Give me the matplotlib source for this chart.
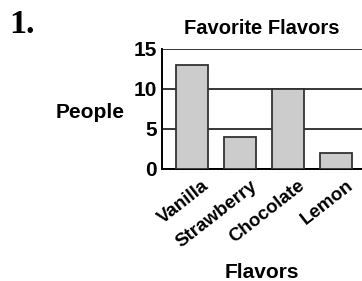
import matplotlib.pyplot as plt
from matplotlib.transforms import ScaledTranslation

flavors = ["Vanilla", "Strawberry", "Chocolate", "Lemon"]
people = [13, 4, 10, 2]
y_ticks = [0, 5, 10, 15]

plt.rcParams["font.family"] = ["Liberation Sans", "DejaVu Sans"]

W, H = 362, 281
fig = plt.figure(figsize=(W / 100, H / 100), dpi=100)
# axes box in pixels: left 162, top 49, bottom 169, runs off the right edge
ax = fig.add_axes([162 / W, 1 - 169 / H, 1 - 162 / W, 120 / H])

x = range(len(flavors))
ax.bar(x, people, width=0.667, color="#cccccc", edgecolor="#333333", linewidth=1.3, zorder=3)

ax.set_ylim(0, 15)
ax.set_xlim(-0.625, -0.625 + (W - 162) / 48)
ax.set_yticks(y_ticks)
ax.set_yticklabels([str(t) for t in y_ticks], fontsize=15, fontweight="bold")
ax.yaxis.grid(True, color="black", linewidth=1.1, zorder=0)
ax.tick_params(axis="y", length=0, pad=3.5)
ax.tick_params(axis="x", length=0, pad=6)

ax.set_xticks(list(x))
ax.set_xticklabels(flavors, rotation=38, ha="right", va="top", rotation_mode="anchor",
                   fontsize=13.5, fontweight="bold")
shift = ScaledTranslation(7 / 72, 0, fig.dpi_scale_trans)
for lbl in ax.get_xticklabels():
    lbl.set_transform(lbl.get_transform() + shift)

for side in ["top", "right"]:
    ax.spines[side].set_visible(False)
ax.spines["left"].set_linewidth(1.4)
ax.spines["bottom"].set_linewidth(1.4)

def px(xp, yp):
    return xp / W, 1 - yp / H

fig.text(*px(262, 34), "Favorite Flavors", fontsize=14.5, fontweight="bold",
         ha="center", va="baseline")
fig.text(*px(262, 278), "Flavors", fontsize=15, fontweight="bold",
         ha="center", va="baseline")
fig.text(*px(125, 118), "People", fontsize=15, fontweight="bold",
         ha="right", va="baseline")
fig.text(*px(9, 33), "1.", family=["Liberation Serif"], fontsize=24.5,
         fontweight="bold", va="baseline")

fig.savefig("out.png", dpi=100)
